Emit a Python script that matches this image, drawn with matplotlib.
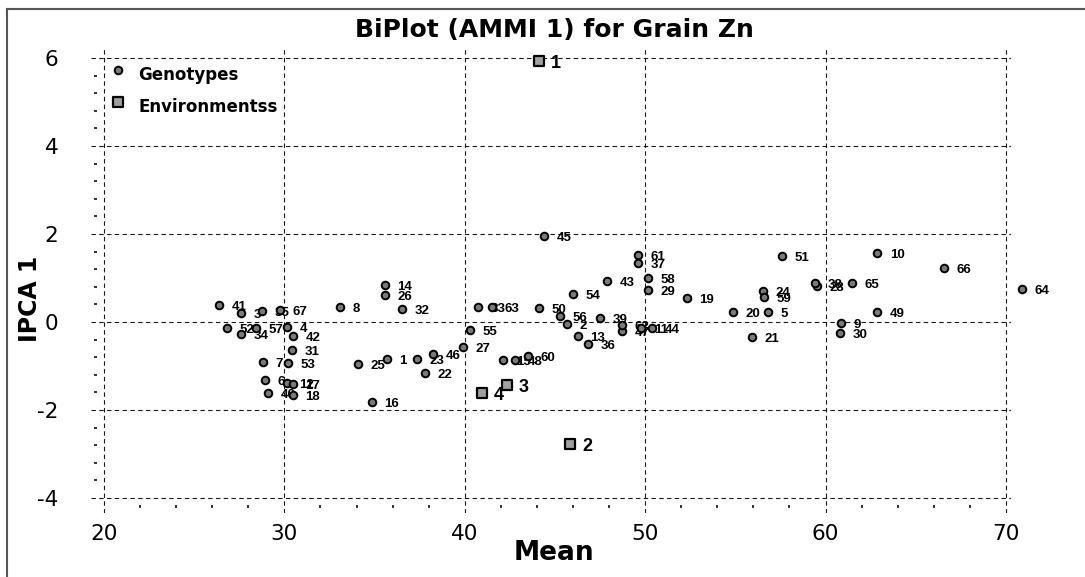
import matplotlib
matplotlib.use("Agg")
import matplotlib.pyplot as plt
from matplotlib.ticker import MultipleLocator
from matplotlib.lines import Line2D

plt.rcParams["axes.unicode_minus"] = False

# ---------------- data ----------------
gen_ids = [str(i) for i in range(1, 68)]
gen_mean = [35.69, 45.68, 27.60, 30.15, 56.80, 28.93, 28.82, 33.07, 60.86, 62.86,
            49.78, 30.15, 46.28, 35.58, 42.13, 34.86, 30.48, 30.48, 52.32, 54.87,
            55.93, 37.80, 37.36, 56.55, 34.09, 35.58, 39.92, 59.54, 50.16, 60.80,
            30.41, 36.53, 40.74, 27.60, 28.78, 46.83, 49.60, 59.43, 47.51, 29.10,
            26.38, 30.48, 47.89, 50.39, 44.40, 38.25, 48.73, 42.80, 62.86, 44.12,
            57.60, 26.84, 30.20, 46.02, 40.31, 45.29, 28.43, 50.16, 56.60, 43.52,
            49.60, 48.69, 41.52, 70.90, 61.47, 66.57, 29.76]
gen_ipca = [-0.84, -0.05, 0.20, -0.11, 0.23, -1.32, -0.91, 0.34, -0.02, 1.57,
            -0.14, -1.38, -0.32, 0.84, -0.86, -1.82, -1.41, -1.66, 0.55, 0.23,
            -0.34, -1.16, -0.84, 0.70, -0.95, 0.61, -0.57, 0.82, 0.73, -0.25,
            -0.64, 0.30, 0.34, -0.27, 0.25, -0.50, 1.34, 0.89, 0.09, -1.61,
            0.39, -0.32, 0.93, -0.14, 1.95, -0.73, -0.20, -0.86, 0.23, 0.32,
            1.50, -0.14, -0.93, 0.64, -0.18, 0.14, -0.14, 1.00, 0.57, -0.77,
            1.52, -0.07, 0.34, 0.76, 0.89, 1.23, 0.27]

env_ids = ["1", "2", "3", "4"]
env_mean = [44.10, 45.85, 42.35, 40.95]
env_ipca = [5.93, -2.77, -1.43, -1.61]

x_ticks = [20, 30, 40, 50, 60, 70]
y_ticks = [-4, -2, 0, 2, 4, 6]

# ---------------- figure ----------------
W, H = 1085, 577
fig = plt.figure(figsize=(W / 100, H / 100), dpi=100)
ax = fig.add_axes([91.3 / W, 1 - 513.4 / H, 920.1 / W, 464.2 / H])
ax.set_xlim(19.3, 70.3)
ax.set_ylim(-4.35, 6.2)

for s in ax.spines.values():
    s.set_visible(False)
ax.spines["bottom"].set_position(("data", -4.15))
ax.spines["left"].set_position(("data", 19.6))

ax.set_xticks(x_ticks)
ax.set_yticks(y_ticks)
ax.xaxis.set_minor_locator(MultipleLocator(2))
ax.yaxis.set_minor_locator(MultipleLocator(0.4))
ax.tick_params(which="major", length=0)
ax.tick_params(axis="x", which="major", pad=14, labelsize=15.5)
ax.tick_params(axis="y", which="major", pad=27.5, labelsize=15.5)
ax.tick_params(which="minor", length=2.5, width=1.4, color="#333333", direction="out")
for lab in ax.get_xticklabels() + ax.get_yticklabels():
    lab.set_family("DejaVu Sans")

ax.grid(True, which="major", color="#1a1a1a", linewidth=0.8, linestyle=(0, (4, 3)))
ax.set_axisbelow(True)

# genotypes
sc_g = ax.scatter(gen_mean, gen_ipca, s=30, marker="o", facecolor="#7a7a7a",
                  edgecolor="black", linewidth=1.4, zorder=4, clip_on=False)
for gid, x, y in zip(gen_ids, gen_mean, gen_ipca):
    ax.annotate(gid, (x, y), xytext=(9.0, -1.5), textcoords="offset points",
                ha="left", va="center", fontsize=9.5, fontweight="bold",
                family="Liberation Sans", zorder=3, annotation_clip=False)

# environments
sc_e = ax.scatter(env_mean, env_ipca, s=50, marker="s", facecolor="#a0a0a0",
                  edgecolor="black", linewidth=1.6, zorder=5, clip_on=False)
for eid, x, y in zip(env_ids, env_mean, env_ipca):
    ax.annotate(eid, (x, y), xytext=(8.5, -2.0), textcoords="offset points",
                ha="left", va="center", fontsize=13, fontweight="bold",
                family="Liberation Sans", zorder=3, annotation_clip=False)

# legend
ax.legend(handles=[sc_g, sc_e], labels=["Genotypes", "Environmentss"],
          loc="upper left", bbox_to_anchor=(109.7 / W, 1 - 66 / H),
          bbox_transform=fig.transFigure, frameon=False, borderpad=0,
          borderaxespad=0, handlelength=1.0, handletextpad=0.7,
          labelspacing=0.85, scatterpoints=1, scatteryoffsets=[0.85],
          prop=dict(family="DejaVu Sans", weight="bold", size=12))

# texts
fig.text(554 / W, 1 - 37 / H, "BiPlot (AMMI 1) for Grain Zn", ha="center",
         va="baseline", fontsize=18, fontweight="bold", family="DejaVu Sans")
fig.text(554 / W, 1 - 560 / H, "Mean", ha="center", va="baseline",
         fontsize=19, fontweight="bold", family="DejaVu Sans")
fig.text(30 / W, 1 - 299 / H, "IPCA 1", ha="center", va="center", rotation=90,
         fontsize=17, fontweight="bold", family="DejaVu Sans")

# figure border (left and top)
fig.add_artist(Line2D([7 / W, 7 / W], [0, 1 - 9 / H], transform=fig.transFigure,
                      color="#555555", linewidth=1.5))
fig.add_artist(Line2D([7 / W, 1], [1 - 9 / H, 1 - 9 / H], transform=fig.transFigure,
                      color="#555555", linewidth=1.5))

fig.savefig("out.png", dpi=100)
